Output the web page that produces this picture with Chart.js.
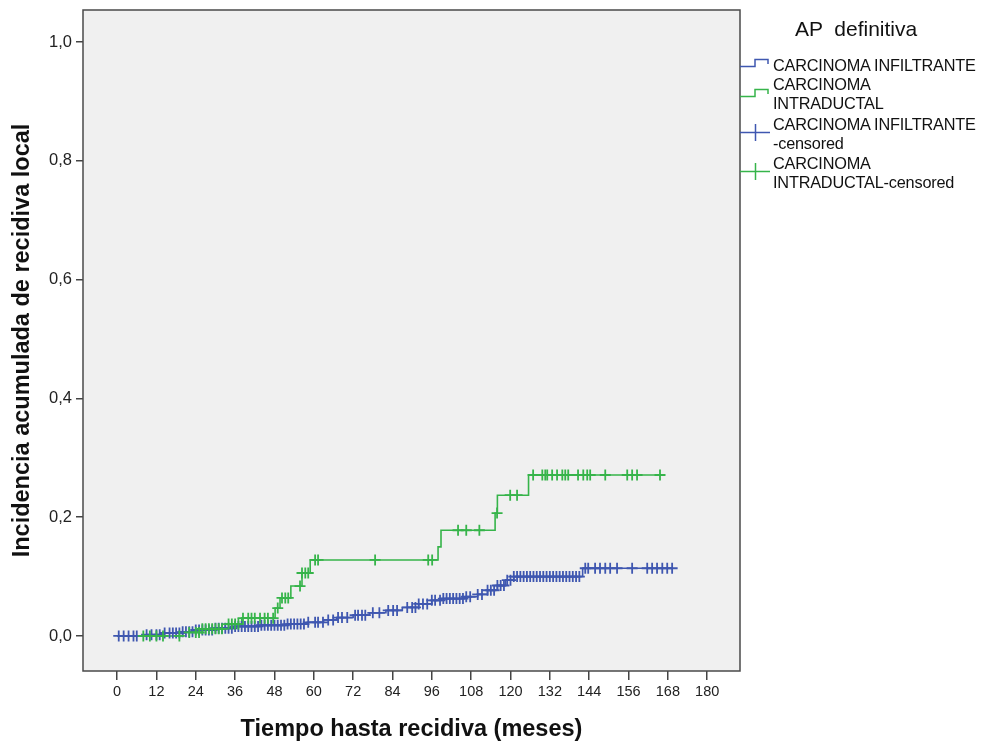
<!DOCTYPE html>
<html>
<head>
<meta charset="utf-8">
<script src="https://cdn.jsdelivr.net/npm/chart.js@4"></script>
<style>
  body { margin: 0; background: #fff; }
  #wrap { position: relative; width: 983px; height: 744px; }
  #legend { position: absolute; left: 740px; top: 18px; font-family: 'Liberation Sans', Arial, sans-serif; color: #111; }
  #legend .ttl { position: absolute; left: 55px; top: -1px; font-size: 21px; white-space: pre; }
  #legend .item { position: absolute; left: 0; width: 245px; }
  #legend .item svg { position: absolute; left: 0; top: 0; }
  #legend .item span { position: absolute; left: 33px; top: 0; font-size: 16.3px; line-height: 19px; white-space: nowrap; letter-spacing: -0.2px; }
</style>
</head>
<body>
<div id="wrap">
  <canvas id="myChart" width="983" height="744"></canvas>
  <div id="legend">
    <div class="ttl">AP  definitiva</div>
    <div class="item" style="top:38px">
      <svg width="32" height="20"><polyline points="0,10.5 15,10.5 15,3.5 28,3.5 28,8" fill="none" stroke="#3f57b0" stroke-width="1.5"/></svg>
      <span>CARCINOMA INFILTRANTE</span>
    </div>
    <div class="item" style="top:57px">
      <svg width="32" height="40"><polyline points="0,21.5 15,21.5 15,14.5 28,14.5 28,19" fill="none" stroke="#36b44a" stroke-width="1.5"/></svg>
      <span>CARCINOMA<br>INTRADUCTAL</span>
    </div>
    <div class="item" style="top:97px">
      <svg width="32" height="40"><line x1="0" y1="17.5" x2="30" y2="17.5" stroke="#3f57b0" stroke-width="1.5"/><line x1="15.5" y1="9" x2="15.5" y2="26" stroke="#3f57b0" stroke-width="1.5"/></svg>
      <span>CARCINOMA INFILTRANTE<br>-censored</span>
    </div>
    <div class="item" style="top:136px">
      <svg width="32" height="40"><line x1="0" y1="17.5" x2="30" y2="17.5" stroke="#36b44a" stroke-width="1.5"/><line x1="15.5" y1="9" x2="15.5" y2="26" stroke="#36b44a" stroke-width="1.5"/></svg>
      <span>CARCINOMA<br>INTRADUCTAL-censored</span>
    </div>
  </div>
</div>
<script>
const ctx = document.getElementById('myChart')

// Infiltrante: event times (months) and cumulative incidence
const infTiempos = [0, 8, 14, 20, 24, 30, 36, 44, 52, 58, 63, 67, 72, 77, 82, 87, 92, 96, 99, 106, 110, 113, 116, 118.5, 121, 142, 169.6]
const infValores = [0, 0.002, 0.005, 0.007, 0.01, 0.013, 0.016, 0.018, 0.02, 0.023, 0.027, 0.031, 0.035, 0.039, 0.043, 0.048, 0.054, 0.06, 0.063, 0.066, 0.07, 0.077, 0.085, 0.094, 0.1, 0.114, 0.114]
const infCensurados = [0.5, 2, 3.5, 5, 6, 9, 10.5, 12, 13, 14.5, 16, 17, 18, 19, 20, 21, 22, 23, 24, 25, 26, 27, 28, 29, 30, 31, 32, 33, 34, 35, 36, 37, 38, 39, 40, 41, 42, 43, 44, 45, 46, 47, 48, 49, 50, 51, 52, 53, 54, 55, 56, 57, 58.3, 60.4, 61.3, 62.8, 64.4, 65.9, 67.4, 68.6, 70.2, 72.6, 73.5, 74.7, 75.7, 78, 80, 82.7, 84.2, 85.4, 88.5, 90, 91, 92, 93.3, 94.6, 96, 97, 98.5, 99.5, 100.5, 101.5, 102.5, 103.5, 104.5, 105.5, 106.5, 107.7, 110, 111.3, 113, 114, 115, 116, 117, 118, 119, 120, 121, 122, 123, 124, 125, 126, 127, 128, 129, 130, 131, 132, 133, 134, 135, 136, 137, 138, 139, 140, 141, 142.8, 143.7, 145.8, 147.3, 148.9, 150.4, 152.5, 157.1, 161.7, 163.2, 164.7, 166.3, 167.8, 169.3]

// Intraductal
const intTiempos = [0, 20, 26, 33, 38, 48.2, 49.7, 53, 56.4, 58.9, 97.9, 98.8, 115.3, 116, 125.5, 165.6]
const intValores = [0, 0.006, 0.012, 0.02, 0.03, 0.047, 0.064, 0.084, 0.106, 0.128, 0.15, 0.178, 0.207, 0.237, 0.271, 0.271]
const intCensurados = [8, 10, 12, 14, 19, 22, 24, 25, 26, 27, 28, 29, 30, 31, 32, 34, 35, 36, 37, 38.4, 40, 41, 42, 43.6, 45, 46, 47.6, 49, 50.3, 51.3, 52.2, 55.8, 56.4, 57.4, 58.3, 60.4, 61.3, 78.7, 94.9, 96.1, 104, 106.5, 110.5, 115.9, 119.9, 122, 126.9, 129.7, 130.6, 131.2, 132.7, 134.2, 135.8, 136.7, 137.6, 140.6, 142.2, 143.4, 144.3, 148.9, 155.6, 157.1, 158.6, 165.6]

const ticksX = [0, 12, 24, 36, 48, 60, 72, 84, 96, 108, 120, 132, 144, 156, 168, 180]
const ticksY = [0, 0.2, 0.4, 0.6, 0.8, 1.0]

const azul = '#3f57b0'
const verde = '#36b44a'

function valorEn(tiempos, valores, t) {
    let v = valores[0]
    for (let i = 0; i < tiempos.length; i++) {
        if (tiempos[i] <= t) v = valores[i]
    }
    return v
}

const escalon = (tiempos, valores) => tiempos.map((t, i) => ({ x: t, y: valores[i] }))
const cruces = (cens, tiempos, valores) => cens.map(t => ({ x: t, y: valorEn(tiempos, valores, t) }))

const marco = {
    id: 'marco',
    beforeDraw(chart) {
        const { ctx, chartArea: a } = chart
        ctx.save()
        ctx.fillStyle = '#f0f0f0'
        ctx.fillRect(a.left, a.top, a.right - a.left, a.bottom - a.top)
        ctx.restore()
    },
    afterDraw(chart) {
        const { ctx, chartArea: a } = chart
        ctx.save()
        ctx.strokeStyle = '#4a4a4a'
        ctx.lineWidth = 1.5
        ctx.strokeRect(a.left, a.top, a.right - a.left, a.bottom - a.top)
        ctx.restore()
    }
}

const myChart = new Chart(ctx, {
    type: 'scatter',
    data: {
        datasets: [
            {
                label: 'CARCINOMA INTRADUCTAL-censored',
                data: cruces(intCensurados, intTiempos, intValores),
                pointStyle: 'cross',
                pointRadius: 5.5,
                borderColor: verde,
                borderWidth: 1.8,
                showLine: false
            },
            {
                label: 'CARCINOMA INFILTRANTE-censored',
                data: cruces(infCensurados, infTiempos, infValores),
                pointStyle: 'cross',
                pointRadius: 5.5,
                borderColor: azul,
                borderWidth: 1.8,
                showLine: false
            },
            {
                label: 'CARCINOMA INTRADUCTAL',
                data: escalon(intTiempos, intValores),
                showLine: true,
                stepped: true,
                pointRadius: 0,
                borderColor: verde,
                borderWidth: 1.6,
                fill: false
            },
            {
                label: 'CARCINOMA INFILTRANTE',
                data: escalon(infTiempos, infValores),
                showLine: true,
                stepped: true,
                pointRadius: 0,
                borderColor: azul,
                borderWidth: 1.6,
                fill: false
            }
        ]
    },
    options: {
        responsive: false,
        animation: false,
        layout: { padding: { left: 0, right: 243, top: 10, bottom: 0 } },
        plugins: { legend: { display: false }, tooltip: { enabled: false } },
        scales: {
            x: {
                type: 'linear',
                min: -10.4,
                max: 190,
                afterBuildTicks: s => { s.ticks = ticksX.map(v => ({ value: v })) },
                afterFit: s => { s.height = 73; s.paddingLeft = 0; s.paddingRight = 0 },
                border: { display: false },
                grid: { drawOnChartArea: false, drawTicks: true, tickLength: 9, color: '#444', lineWidth: 1.5 },
                ticks: {
                    color: '#222',
                    padding: 3,
                    maxRotation: 0,
                    autoSkip: false,
                    font: { family: "'Liberation Sans', Arial", size: 14.5 }
                },
                title: {
                    display: true,
                    text: 'Tiempo hasta recidiva (meses)',
                    color: '#111',
                    padding: { top: 0, bottom: 0 },
                    font: { family: "'Liberation Sans', Arial", size: 23.5, weight: 'bold' }
                }
            },
            y: {
                min: -0.059,
                max: 1.054,
                afterBuildTicks: s => { s.ticks = ticksY.map(v => ({ value: v })) },
                afterFit: s => { s.width = 83; s.paddingTop = 0; s.paddingBottom = 0 },
                border: { display: false },
                grid: { drawOnChartArea: false, drawTicks: true, tickLength: 7, color: '#444', lineWidth: 1.5 },
                ticks: {
                    color: '#222',
                    padding: 4,
                    font: { family: "'Liberation Sans', Arial", size: 16.5 },
                    callback: v => v.toFixed(1).replace('.', ',')
                },
                title: {
                    display: true,
                    text: 'Incidencia acumulada de recidiva local',
                    color: '#111',
                    padding: { top: 8, bottom: 0 },
                    font: { family: "'Liberation Sans', Arial", size: 23.5, weight: 'bold' }
                }
            }
        }
    },
    plugins: [marco]
})
</script>
</body>
</html>
